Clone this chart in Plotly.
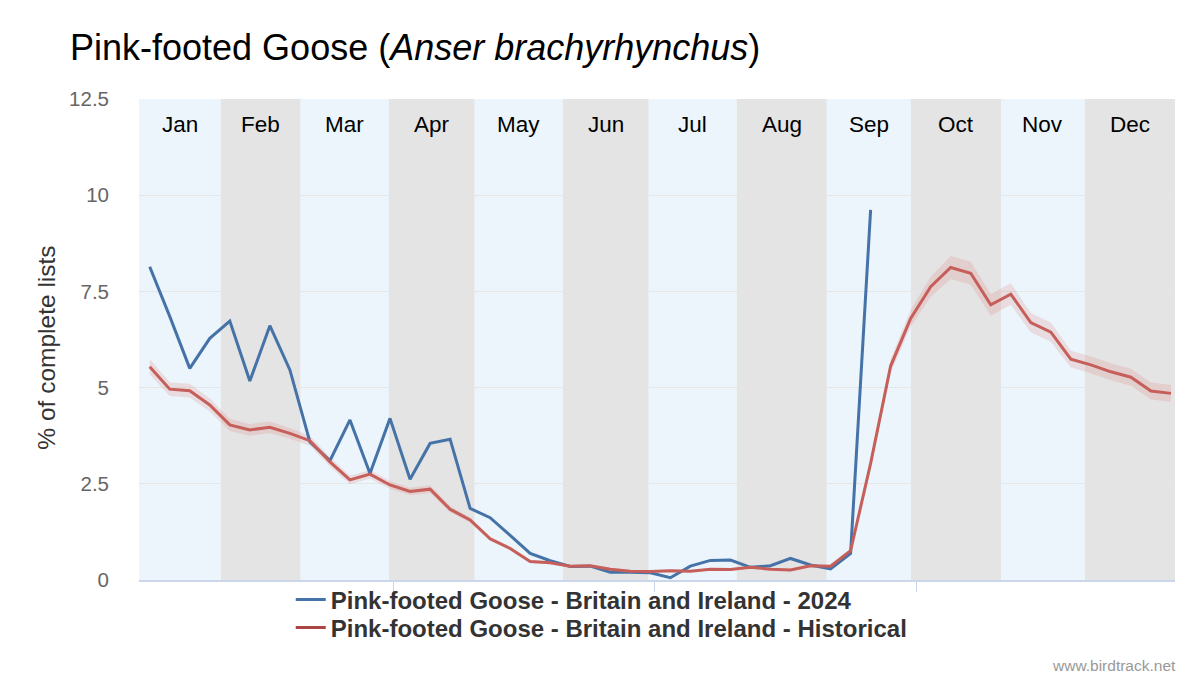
import plotly.graph_objects as go

# ---- data ----
weeks = list(range(1, 53))
months = ["Jan", "Feb", "Mar", "Apr", "May", "Jun", "Jul", "Aug", "Sep", "Oct", "Nov", "Dec"]
# month band edges in week units
month_edges = [0.465, 4.546, 8.54, 12.95, 17.23, 21.63, 25.92, 30.32, 34.81, 39.01, 43.51, 47.70, 52.2]

y2024 = [8.14, 6.85, 5.50, 6.28, 6.73, 5.17, 6.61, 5.46, 3.59, 3.10, 4.16, 2.77, 4.20,
         2.62, 3.55, 3.66, 1.86, 1.62, 1.16, 0.69, 0.50, 0.35, 0.36, 0.20, 0.20, 0.19,
         0.06, 0.36, 0.51, 0.52, 0.33, 0.37, 0.56, 0.39, 0.29, 0.69, 9.62]

hist = [5.54, 4.96, 4.92, 4.55, 4.03, 3.90, 3.97, 3.81, 3.62, 3.07, 2.60, 2.75, 2.47,
        2.30, 2.36, 1.84, 1.56, 1.07, 0.82, 0.48, 0.45, 0.36, 0.37, 0.28, 0.23, 0.22,
        0.24, 0.23, 0.28, 0.27, 0.33, 0.28, 0.26, 0.37, 0.36, 0.76, 3.03, 5.56, 6.80,
        7.62, 8.12, 7.97, 7.15, 7.43, 6.69, 6.44, 5.74, 5.59, 5.41, 5.27, 4.91, 4.85]

hist_ci = [0.20, 0.18, 0.18, 0.17, 0.16, 0.15, 0.15, 0.14, 0.13, 0.12, 0.11, 0.11, 0.10,
           0.10, 0.10, 0.08, 0.07, 0.06, 0.05, 0.04, 0.04, 0.03, 0.03, 0.03, 0.03, 0.03,
           0.03, 0.03, 0.03, 0.03, 0.03, 0.03, 0.03, 0.03, 0.03, 0.05, 0.12, 0.18, 0.22,
           0.26, 0.30, 0.30, 0.28, 0.28, 0.25, 0.25, 0.22, 0.22, 0.22, 0.22, 0.22, 0.22]

y_ticks = [0, 2.5, 5, 7.5, 10, 12.5]
y_tick_labels = ["0", "2.5", "5", "7.5", "10", "12.5"]
x_ticks = [13.19, 26.22, 39.3]

BLUE = "#4572A7"
RED_LINE = "#c65e5a"
RED_LEGEND = "#AA4643"
FONT = "Liberation Sans, Arial, sans-serif"

fig = go.Figure()

hist_hi = [h + c for h, c in zip(hist, hist_ci)]
hist_lo = [h - c for h, c in zip(hist, hist_ci)]
fig.add_trace(go.Scatter(x=weeks, y=hist_hi, mode="lines", line=dict(width=0),
                         showlegend=False, hoverinfo="skip"))
fig.add_trace(go.Scatter(x=weeks, y=hist_lo, mode="lines", line=dict(width=0),
                         fill="tonexty", fillcolor="rgba(225,110,110,0.19)",
                         showlegend=False, hoverinfo="skip"))

fig.add_trace(go.Scatter(x=weeks[:len(y2024)], y=y2024, mode="lines",
                         line=dict(color=BLUE, width=3), legend="legend",
                         name="Pink-footed Goose - Britain and Ireland - 2024"))
fig.add_trace(go.Scatter(x=weeks, y=hist, mode="lines",
                         line=dict(color=RED_LINE, width=3), showlegend=False,
                         name="Pink-footed Goose - Britain and Ireland - Historical"))
# legend entry for the historical series (legend colour is darker than the line)
fig.add_trace(go.Scatter(x=[None], y=[None], mode="lines",
                         line=dict(color=RED_LEGEND, width=3), legend="legend2",
                         name="Pink-footed Goose - Britain and Ireland - Historical"))

shapes = []
for i in range(12):
    shapes.append(dict(type="rect", xref="x", yref="y",
                       x0=month_edges[i], x1=month_edges[i + 1], y0=0, y1=12.5,
                       fillcolor="#EBF5FB" if i % 2 == 0 else "#E4E4E4",
                       line=dict(width=0), layer="below"))

annotations = []
for i, m in enumerate(months):
    annotations.append(dict(x=(month_edges[i] + month_edges[i + 1]) / 2, y=11.85,
                            xref="x", yref="y", text=m, showarrow=False,
                            font=dict(size=22.5, color="#000000", family=FONT)))
annotations.append(dict(x=1.0, y=0, xref="paper", yref="paper", xanchor="right",
                        yanchor="middle", yshift=-85, xshift=3,
                        text="www.birdtrack.net", showarrow=False,
                        font=dict(size=15.5, color="#999999", family=FONT)))
# y-axis title
annotations.append(dict(x=(46 - 139.3) / 1035.7, y=(580 - 348) / 481,
                        xref="paper", yref="paper", xanchor="center", yanchor="middle",
                        text="% of complete lists", textangle=-90, showarrow=False,
                        font=dict(size=24.5, color="#333333", family=FONT)))

legend_common = dict(x=(291 - 139.3) / 1035.7, xanchor="left", yanchor="middle",
                     font=dict(size=24, color="#333333", family=FONT, weight="bold"),
                     bgcolor="rgba(0,0,0,0)", itemwidth=30)

fig.update_layout(
    width=1200, height=680,
    margin=dict(l=139, r=25, t=99, b=100),
    paper_bgcolor="white", plot_bgcolor="white",
    font=dict(family=FONT),
    title=dict(text="Pink-footed Goose (<i>Anser brachyrhynchus</i>)",
               x=70 / 1200, xanchor="left", y=1 - 47 / 680, yanchor="middle",
               font=dict(size=36, color="#000000", family=FONT)),
    shapes=shapes,
    annotations=annotations,
    showlegend=True,
    legend=dict(y=(580 - 600) / 481, **legend_common),
    legend2=dict(y=(580 - 628) / 481, **legend_common),
    xaxis=dict(range=[month_edges[0], month_edges[-1]], showgrid=False, zeroline=False,
               showticklabels=False, tickvals=x_ticks, ticks="outside", ticklen=10,
               tickcolor="#ccd6eb", tickwidth=1, showline=True, linecolor="#ccd6eb",
               linewidth=2, fixedrange=True),
    yaxis=dict(range=[0, 12.5], tickvals=y_ticks, ticktext=y_tick_labels,
               showgrid=True, gridcolor="#e6e6e6", gridwidth=1, zeroline=False,
               ticks="", ticklabelstandoff=29,
               tickfont=dict(size=20.5, color="#666666"),
               fixedrange=True),
)

fig.write_html("out.html", config={"displayModeBar": False},
               post_script="document.body.style.margin='0px';document.body.style.padding='0px';")
